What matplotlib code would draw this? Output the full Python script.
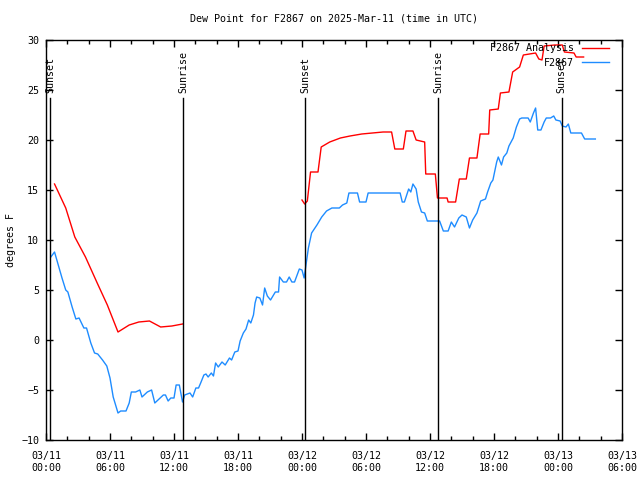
import numpy as np
import pandas as pd
import matplotlib
matplotlib.use('Agg')
import matplotlib.pyplot as plt
import matplotlib.dates as mdates
import matplotlib.transforms as mtransforms

plt.rcParams['font.family'] = ['DejaVu Sans Mono']
plt.rcParams['font.size'] = 7.2

# hours after 2025-03-11 00:00 UTC
start = pd.Timestamp('2025-03-11 00:00')

red_hours = [0.8, 1.85, 2.7, 3.7, 4.8, 5.75, 6.75, 7.8, 8.7, 9.7, 10.75, 11.8,
             12.8, np.nan,
             24.0, 24.25, 24.5, 24.8, 25.5, 25.8, 26.6, 27.6, 28.5, 29.6, 31.6,
             32.4, 32.7, 33.5, 33.75, 34.4, 34.7, 35.5, 35.6, 36.5, 36.7, 37.6,
             37.7, 38.4, 38.75, 39.4, 39.7, 40.4, 40.7, 41.5, 41.6, 42.4, 42.6,
             43.4, 43.75, 44.4, 44.75, 45.9, 46.2, 46.5, 46.7, 47.7, 48.4, 48.6,
             49.5, 49.7, 50.4]
red_values = [15.6, 13.2, 10.3, 8.3, 5.7, 3.5, 0.8, 1.5, 1.8, 1.9, 1.3, 1.4,
              1.6, np.nan,
              14.0, 13.6, 13.9, 16.8, 16.8, 19.3, 19.8, 20.2, 20.4, 20.6, 20.8,
              20.8, 19.1, 19.1, 20.9, 20.9, 20.0, 19.8, 16.6, 16.6, 14.2, 14.2,
              13.8, 13.8, 16.1, 16.1, 18.2, 18.2, 20.6, 20.6, 23.0, 23.1, 24.7,
              24.8, 26.8, 27.3, 28.5, 28.7, 28.1, 28.0, 29.4, 29.5, 29.5, 28.8,
              28.7, 28.3, 28.3]

blue_hours = [0.45, 0.8, 1.2, 1.5, 1.85, 2.05, 2.45, 2.8, 3.1, 3.55, 3.8, 4.2,
              4.55, 4.85, 5.3, 5.7, 6.0, 6.3, 6.75, 7.0, 7.5, 7.8, 8.0, 8.4,
              8.8, 9.0, 9.5, 9.9, 10.2, 10.6, 11.0, 11.2, 11.45, 11.7, 12.0,
              12.2, 12.5, 12.8, 13.0, 13.5, 13.75, 14.05, 14.3, 14.5, 14.8,
              15.0, 15.2, 15.5, 15.7, 15.9, 16.15, 16.5, 16.8, 17.2, 17.4,
              17.7, 18.0, 18.2, 18.5, 18.75, 19.0, 19.2, 19.45, 19.6, 19.75,
              20.05, 20.3, 20.5, 20.75, 21.05, 21.5, 21.8, 21.9, 22.25, 22.55,
              22.8, 23.05, 23.3, 23.75, 24.0, 24.2, 24.4, 24.6, 24.9, 25.4,
              25.85, 26.3, 26.8, 27.5, 27.8, 28.2, 28.4, 29.2, 29.4, 30.0,
              30.2, 33.2, 33.4, 33.6, 34.0, 34.2, 34.4, 34.7, 34.9, 35.2,
              35.5, 35.75, 36.9, 37.25, 37.7, 38.0, 38.3, 38.7, 39.0, 39.4,
              39.7, 40.0, 40.4, 40.75, 41.2, 41.4, 41.7, 41.9, 42.1, 42.25,
              42.4, 42.7, 42.9, 43.2, 43.4, 43.8, 44.1, 44.4, 44.6, 45.2,
              45.4, 45.7, 45.9, 46.1, 46.4, 46.7, 46.9, 47.3, 47.6, 47.8,
              48.2, 48.4, 48.75, 48.97, 49.2, 50.2, 50.5, 51.5]
blue_values = [8.3, 8.8, 7.3, 6.2, 5.0, 4.8, 3.3, 2.1, 2.2, 1.2, 1.2, -0.3,
               -1.3, -1.4, -2.0, -2.6, -3.8, -5.7, -7.3, -7.1, -7.1, -6.3, -5.2,
               -5.2, -5.0, -5.7, -5.2, -5.0, -6.3, -5.9, -5.5, -5.5, -6.1, -5.8,
               -5.8, -4.5, -4.5, -6.2, -5.5, -5.3, -5.7, -4.8, -4.8, -4.3, -3.5,
               -3.4, -3.7, -3.3, -3.6, -2.3, -2.7, -2.2, -2.5, -1.8, -2.0,
               -1.2, -1.1, -0.1, 0.7, 1.1, 2.0, 1.7, 2.5, 3.7, 4.3,
               4.2, 3.5, 5.2, 4.4, 4.0, 4.8, 4.8, 6.3, 5.8, 5.8,
               6.3, 5.8, 5.8, 7.1, 7.0, 6.2, 7.7, 9.2, 10.7, 11.5,
               12.3, 12.9, 13.2, 13.2, 13.5, 13.7, 14.7, 14.7, 13.8, 13.8,
               14.7, 14.7, 13.8, 13.8, 15.1, 14.8, 15.6, 15.1, 13.8, 12.8,
               12.7, 11.9, 11.9, 10.9, 10.9, 11.8, 11.3, 12.2, 12.5, 12.3,
               11.2, 12.0, 12.7, 13.9, 14.1, 14.8, 15.7, 16.0, 17.0, 17.8,
               18.3, 17.5, 18.3, 18.7, 19.4, 20.2, 21.3, 22.1, 22.2, 22.2,
               21.8, 22.7, 23.2, 21.0, 21.0, 21.8, 22.2, 22.2, 22.4, 22.0,
               21.9, 21.4, 21.3, 21.6, 20.7, 20.7, 20.1, 20.1]

sun_times = ['2025-03-11 00:25', '2025-03-11 12:52', '2025-03-12 00:17',
             '2025-03-12 12:47', '2025-03-13 00:20']
sun_labels = ['Sunset', 'Sunrise', 'Sunset', 'Sunrise', 'Sunset']

red_t = start + pd.to_timedelta(red_hours, unit='h')
blue_t = start + pd.to_timedelta(blue_hours, unit='h')

fig = plt.figure(figsize=(6.4, 4.8), dpi=100)
ax = fig.add_axes([46 / 640, 40 / 480, 576 / 640, 400 / 480])

ax.plot(red_t, red_values, color='#ff0000', lw=1.0, label='F2867 Analysis')
ax.plot(blue_t, blue_values, color='#1e8cff', lw=1.0, label='F2867')

# sunrise / sunset markers
trans = mtransforms.blended_transform_factory(ax.transData, ax.transAxes)
for s, lab in zip(sun_times, sun_labels):
    ts = pd.Timestamp(s)
    ax.axvline(ts, ymin=0, ymax=0.855, color='black', lw=1.0)
    ax.text(ts, 0.868, lab, rotation=90, ha='center', va='bottom',
            transform=trans)

ax.set_xlim(start, pd.Timestamp('2025-03-13 06:00'))
ax.set_ylim(-10, 30)
ax.set_yticks(range(-10, 31, 5))
ax.xaxis.set_major_locator(mdates.HourLocator(byhour=[0, 6, 12, 18]))
ax.xaxis.set_minor_locator(mdates.HourLocator(byhour=range(0, 24, 2)))
ax.xaxis.set_major_formatter(mdates.DateFormatter('%m/%d\n%H:%M'))

ax.tick_params(which='both', direction='in', top=True, right=True,
               width=1, colors='black')
ax.tick_params(which='major', length=5, pad=8)
ax.tick_params(axis='y', which='major', pad=5)
ax.tick_params(which='minor', length=3)
for sp in ax.spines.values():
    sp.set_linewidth(1)

ax.set_ylabel('degrees F', labelpad=4)
ax.set_title('Dew Point for F2867 on 2025-Mar-11 (time in UTC)',
             fontsize=7.2, pad=13)

leg = ax.legend(loc='upper right', frameon=False, markerfirst=False,
                handlelength=2.7, handletextpad=0.8, labelspacing=0.45,
                borderaxespad=0.2, borderpad=0.3,
                bbox_to_anchor=(1 - 8 / 576, 1 + 2 / 400))
leg.set_zorder(5)

fig.savefig('out.png', dpi=100)
